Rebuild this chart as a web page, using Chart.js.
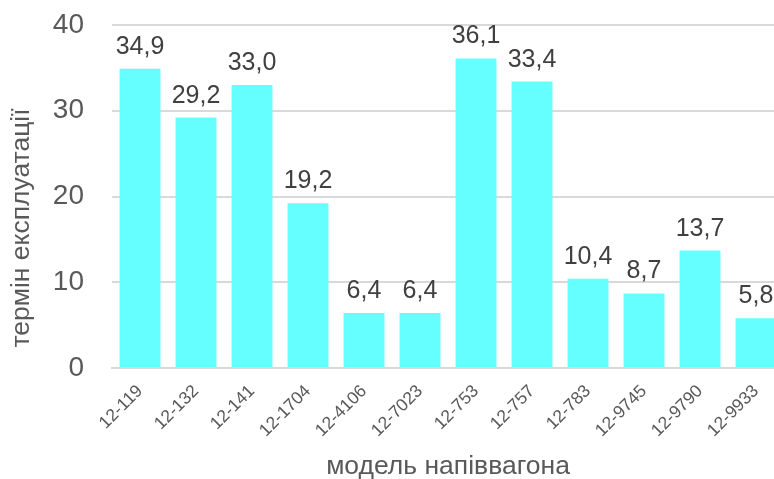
<!DOCTYPE html>
<html>
<head>
<meta charset="utf-8">
<script src="https://cdn.jsdelivr.net/npm/chart.js@4"></script>
<style>
  html, body { margin: 0; padding: 0; background: #fff; overflow: hidden; }
  #wrap { width: 784px; height: 479px; }
</style>
</head>
<body>
<div id="wrap"><canvas id="barChart"></canvas></div>
<script>
const models = ["12-119", "12-132", "12-141", "12-1704", "12-4106", "12-7023",
                "12-753", "12-757", "12-783", "12-9745", "12-9790", "12-9933"];
const serviceLife = [34.9, 29.2, 33.0, 19.2, 6.4, 6.4, 36.1, 33.4, 10.4, 8.7, 13.7, 5.8];
const yTicks = [0, 10, 20, 30, 40];
const xTitle = "модель напіввагона";
const yTitle = "термін експлуатації";

const FONT = "'Liberation Sans', Arial, sans-serif";

// value labels above bars + axis titles
const extras = {
  id: "extras",
  afterDatasetsDraw(chart) {
    const ctx = chart.ctx;
    const meta = chart.getDatasetMeta(0);
    ctx.save();
    ctx.font = "25px " + FONT;
    ctx.fillStyle = "#404040";
    ctx.textAlign = "center";
    ctx.textBaseline = "alphabetic";
    meta.data.forEach((bar, i) => {
      ctx.fillText(serviceLife[i].toFixed(1).replace(".", ","), bar.x, bar.y - 15);
    });

    ctx.fillStyle = "#595959";
    ctx.font = "26.5px " + FONT;
    ctx.textBaseline = "middle";
    ctx.fillText(xTitle, 448, 467);

    ctx.translate(22, 228);
    ctx.rotate(-Math.PI / 2);
    ctx.fillText(yTitle, 0, 0);
    ctx.restore();
  }
};

new Chart(document.getElementById("barChart").getContext("2d"), {
  type: "bar",
  data: {
    labels: models,
    datasets: [{
      data: serviceLife,
      backgroundColor: "#66FFFF",
      categoryPercentage: 1,
      barPercentage: 0.73
    }]
  },
  options: {
    responsive: true,
    maintainAspectRatio: false,
    animation: false,
    layout: { padding: { top: 25, right: 0, left: 0, bottom: 0 } },
    plugins: { legend: { display: false }, tooltip: { enabled: false } },
    scales: {
      x: {
        grid: { display: false, drawTicks: false },
        border: { color: "#d9d9d9", width: 2 },
        ticks: {
          color: "#595959",
          font: { family: FONT, size: 17.5 },
          maxRotation: 45, minRotation: 45,
          padding: 13
        },
        afterFit(scale) {
          scale.height = 111;
          scale.paddingLeft = 0;
          scale.paddingRight = 0;
        }
      },
      y: {
        min: 0, max: 40,
        afterBuildTicks(scale) { scale.ticks = yTicks.map(v => ({ value: v })); },
        grid: { color: "#d9d9d9", lineWidth: 2, drawTicks: false },
        border: { display: false },
        ticks: {
          color: "#595959",
          font: { family: FONT, size: 28 },
          padding: 28
        },
        afterFit(scale) {
          scale.width = 112;
          scale.paddingTop = 0;
          scale.paddingBottom = 0;
        }
      }
    }
  },
  plugins: [extras]
});
</script>
</body>
</html>
